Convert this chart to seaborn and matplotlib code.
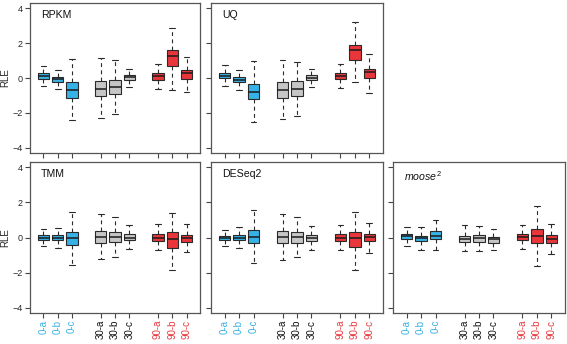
import numpy as np
import pandas as pd
import matplotlib
matplotlib.use("Agg")
import matplotlib.pyplot as plt
import seaborn as sns

# ---- data: five-number summaries [lower whisker, Q1, median, Q3, upper whisker]
samples = ["0-a", "0-b", "0-c", "30-a", "30-b", "30-c", "90-a", "90-b", "90-c"]
groups = ["0", "0", "0", "30", "30", "30", "90", "90", "90"]

rpkm = [[-0.44, -0.04, 0.13, 0.27, 0.69],
        [-0.63, -0.23, -0.08, 0.08, 0.48],
        [-2.40, -1.12, -0.70, -0.23, 1.09],
        [-2.27, -1.05, -0.63, -0.17, 1.12],
        [-2.06, -0.93, -0.53, -0.11, 1.05],
        [-0.51, -0.13, 0.04, 0.15, 0.53],
        [-0.61, -0.10, 0.10, 0.27, 0.78],
        [-0.67, 0.67, 1.24, 1.58, 2.88],
        [-0.78, -0.04, 0.29, 0.48, 1.22]]

uq = [[-0.48, -0.02, 0.13, 0.29, 0.72],
      [-0.67, -0.25, -0.10, 0.06, 0.46],
      [-2.50, -1.22, -0.78, -0.32, 0.97],
      [-2.36, -1.12, -0.70, -0.23, 1.01],
      [-2.17, -1.01, -0.65, -0.19, 0.93],
      [-0.50, -0.13, 0.02, 0.15, 0.53],
      [-0.59, -0.08, 0.10, 0.29, 0.80],
      [-0.25, 1.01, 1.62, 1.92, 3.22],
      [-0.84, -0.02, 0.34, 0.53, 1.35]]

tmm = [[-0.46, -0.13, 0.00, 0.13, 0.46],
       [-0.59, -0.17, -0.02, 0.13, 0.55],
       [-1.58, -0.44, -0.04, 0.34, 1.45],
       [-1.24, -0.29, 0.04, 0.38, 1.35],
       [-1.09, -0.25, 0.04, 0.34, 1.16],
       [-0.67, -0.17, 0.00, 0.19, 0.69],
       [-0.72, -0.21, -0.04, 0.19, 0.76],
       [-1.85, -0.57, -0.06, 0.30, 1.41],
       [-0.82, -0.23, -0.04, 0.15, 0.78]]

deseq2 = [[-0.48, -0.17, -0.02, 0.11, 0.44],
          [-0.59, -0.17, -0.02, 0.17, 0.59],
          [-1.45, -0.34, 0.02, 0.44, 1.56],
          [-1.26, -0.32, 0.02, 0.36, 1.35],
          [-1.10, -0.29, 0.02, 0.32, 1.16],
          [-0.69, -0.19, 0.00, 0.17, 0.65],
          [-0.74, -0.19, 0.00, 0.21, 0.74],
          [-1.83, -0.55, -0.02, 0.34, 1.43],
          [-0.86, -0.21, 0.02, 0.21, 0.84]]

moose2 = [[-0.46, -0.08, 0.08, 0.21, 0.57],
          [-0.69, -0.21, -0.04, 0.11, 0.59],
          [-0.72, -0.10, 0.11, 0.38, 1.01],
          [-0.78, -0.27, -0.08, 0.11, 0.69],
          [-0.78, -0.25, -0.04, 0.13, 0.67],
          [-0.74, -0.29, -0.11, 0.04, 0.51],
          [-0.65, -0.13, 0.04, 0.19, 0.74],
          [-1.62, -0.34, 0.08, 0.51, 1.79],
          [-0.93, -0.29, -0.08, 0.13, 0.78]]

panel_titles = ["RPKM", "UQ", "TMM", "DESeq2", r"$\mathit{moose}^{2}$"]
panel_data = [rpkm, uq, tmm, deseq2, moose2]
yticks = [-4, -2, 0, 2, 4]
group_colors = {"0": "#36B2E6", "30": "#C6C6C6", "90": "#E8363B"}
label_colors = {"0": "#36B2E6", "30": "#111111", "90": "#E8363B"}

# ---- styling
sns.set_style("white")
plt.rcParams["font.family"] = ["Liberation Sans", "DejaVu Sans"]
plt.rcParams["mathtext.fontset"] = "custom"
plt.rcParams["mathtext.it"] = "Liberation Sans:italic"
plt.rcParams["mathtext.rm"] = "Liberation Sans"

W, H = 567, 344
fig = plt.figure(figsize=(W / 100, H / 100), dpi=100)

cols = [(30, 200), (211, 383), (393, 565)]
rows = [(3, 153), (162, 313)]
slots = [(0, 0), (0, 1), (1, 0), (1, 1), (1, 2)]

# category order with spacer slots between groups
order = samples[0:3] + [" "] + samples[3:6] + ["  "] + samples[6:9]
palette = {s: group_colors[g] for s, g in zip(samples, groups)}
palette[" "] = "white"
palette["  "] = "white"

for title, data, (r, c) in zip(panel_titles, panel_data, slots):
    x0, x1 = cols[c]
    y0, y1 = rows[r]
    ax = fig.add_axes([x0 / W, 1 - y1 / H, (x1 - x0) / W, (y1 - y0) / H])
    df = pd.DataFrame({
        "sample": np.repeat(samples, 5),
        "RLE": np.array(data).ravel(),
    })
    sns.boxplot(data=df, x="sample", y="RLE", hue="sample", order=order,
                hue_order=order, palette=palette, dodge=False, legend=False,
                saturation=1, whis=(0, 100), width=0.8,
                linecolor="#2a2a2a", linewidth=0.8, showfliers=False,
                whiskerprops={"linestyle": (0, (3.5, 3))},
                medianprops={"linewidth": 1.1, "color": "#1a1a1a"},
                ax=ax)
    ax.set_xlim(-0.94, 10.94)
    ax.set_ylim(-4.3, 4.3)
    ax.set_yticks(yticks)
    pos = [order.index(s) for s in samples]
    ax.set_xticks(pos)
    for sp in ax.spines.values():
        sp.set_visible(True)
        sp.set_color("#555555")
        sp.set_linewidth(0.9)
    ax.tick_params(axis="both", direction="out", length=3.5, width=0.8,
                   color="#444444", labelsize=6.5, pad=1.5)
    ax.tick_params(axis="both", which="both", bottom=True, left=True)
    if c == 0:
        ax.set_yticklabels([str(t).replace("-", "\u2212") for t in yticks])
        ax.set_ylabel("RLE", fontsize=7, labelpad=1.5)
    else:
        ax.set_yticklabels([])
        ax.set_ylabel("")
    ax.set_xlabel("")
    if r == 1:
        ax.set_xticklabels(samples, rotation=90, fontsize=7)
        for lab, g in zip(ax.get_xticklabels(), groups):
            lab.set_color(label_colors[g])
    else:
        ax.set_xticklabels([])
    ax.text(0.065, 0.955, title, transform=ax.transAxes, ha="left", va="top",
            fontsize=7.6, color="#111111")

fig.savefig("out.png", dpi=100)
